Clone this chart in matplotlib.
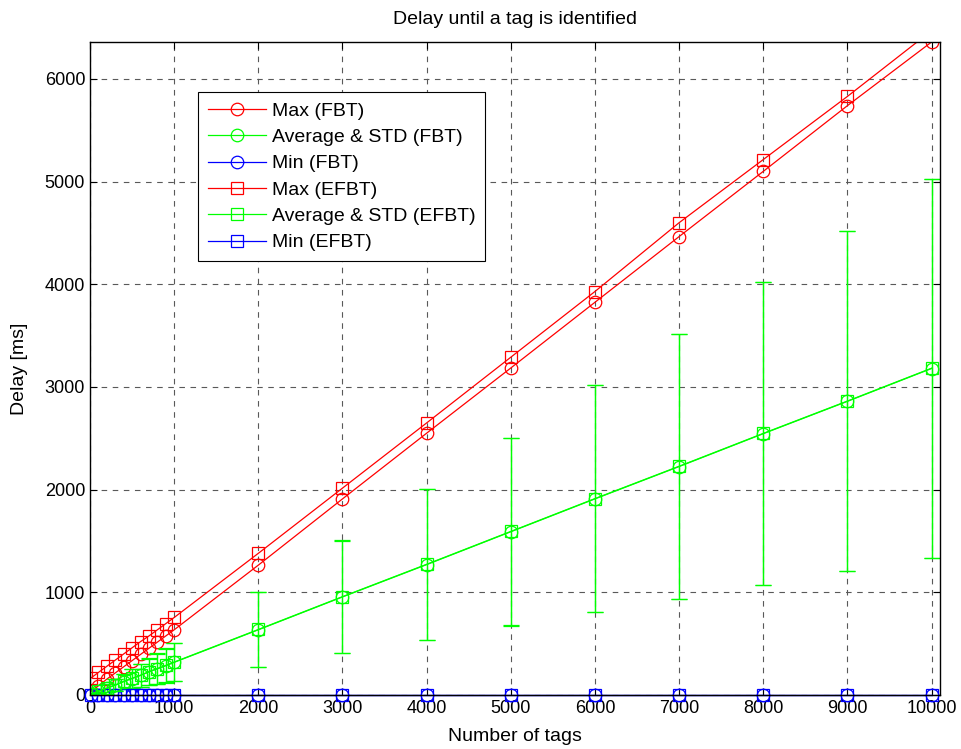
import matplotlib
matplotlib.use('Agg')
import matplotlib.pyplot as plt

plt.rcParams['font.family'] = ['Liberation Sans', 'DejaVu Sans']
plt.rcParams['font.size'] = 13

# number of tags
n_tags = [10, 100, 200, 300, 400, 500, 600, 700, 800, 900, 1000,
          2000, 3000, 4000, 5000, 6000, 7000, 8000, 9000, 10000]

# FBT
max_fbt = [35, 90, 155, 215, 275, 335, 395, 455, 515, 575, 635,
           1265, 1910, 2550, 3185, 3825, 4465, 5100, 5740, 6360]
avg_fbt = [5, 35, 65, 95, 130, 160, 190, 225, 255, 285, 318,
           635, 955, 1270, 1590, 1910, 2225, 2545, 2860, 3180]
std_fbt = [3, 20, 38, 56, 75, 93, 111, 130, 148, 166, 185,
           365, 548, 735, 915, 1105, 1290, 1475, 1655, 1845]
min_fbt = [1, 1, 1, 1, 1, 1, 1, 1, 1, 1, 1,
           1, 1, 1, 1, 1, 1, 1, 1, 1]

# EFBT
max_efbt = [165, 220, 280, 340, 400, 460, 520, 575, 635, 695, 755,
            1380, 2015, 2650, 3290, 3930, 4600, 5215, 5830, 6470]
avg_efbt = [8, 38, 68, 98, 133, 163, 193, 228, 258, 288, 321,
            638, 958, 1273, 1593, 1913, 2228, 2548, 2863, 3183]
std_efbt = [3, 20, 38, 56, 75, 93, 111, 130, 148, 166, 185,
            365, 548, 735, 915, 1105, 1290, 1475, 1655, 1845]
min_efbt = [1, 1, 1, 1, 1, 1, 1, 1, 1, 1, 1,
            1, 1, 1, 1, 1, 1, 1, 1, 1]

fig = plt.figure(figsize=(9.62, 7.49), dpi=100)
ax = fig.add_axes([0.0936, 0.0721, 0.8835, 0.8718])

ms = 9
lw = 0.9
l1, = ax.plot(n_tags, max_fbt, '-o', color='r', mfc='none', ms=ms, lw=lw, mew=lw)
e2 = ax.errorbar(n_tags, avg_fbt, yerr=std_fbt, fmt='-o', color='#00ff00', mfc='none',
                 ms=ms, lw=lw, mew=lw, capsize=6, elinewidth=lw, capthick=lw)
l3, = ax.plot(n_tags, min_fbt, '-o', color='b', mfc='none', ms=ms, lw=lw, mew=lw, clip_on=False)
l4, = ax.plot(n_tags, max_efbt, '-s', color='r', mfc='none', ms=ms, lw=lw, mew=lw)
e5 = ax.errorbar(n_tags, avg_efbt, yerr=std_efbt, fmt='-s', color='#00ff00', mfc='none',
                 ms=ms, lw=lw, mew=lw, capsize=6, elinewidth=lw, capthick=lw)
l6, = ax.plot(n_tags, min_efbt, '-s', color='b', mfc='none', ms=ms, lw=lw, mew=lw, clip_on=False)

ax.set_xlim(0, 10100)
ax.set_ylim(0, 6360)
ax.set_xticks(range(0, 10001, 1000))
ax.set_yticks(range(0, 6001, 1000))
ax.tick_params(direction='in', top=True, right=True, length=5, width=0.8)
for s in ax.spines.values():
    s.set_linewidth(1.0)
ax.grid(True, color='0.35', linestyle=(0, (5, 5)), linewidth=0.8)

ax.set_title('Delay until a tag is identified', fontsize=14, pad=13)
ax.set_xlabel('Number of tags', fontsize=14, labelpad=8)
ax.set_ylabel('Delay [ms]', fontsize=14, labelpad=12)

leg = ax.legend([l1, e2[0], l3, l4, e5[0], l6],
                ['Max (FBT)', 'Average & STD (FBT)', 'Min (FBT)',
                 'Max (EFBT)', 'Average & STD (EFBT)', 'Min (EFBT)'],
                loc='upper left', bbox_to_anchor=(0.127, 0.923), borderaxespad=0,
                fancybox=False, framealpha=1, edgecolor='k', handlelength=3.0,
                handletextpad=0.3, labelspacing=0.45, borderpad=0.5, fontsize=14)
leg.get_frame().set_linewidth(0.8)

fig.savefig('out.png', dpi=100)
